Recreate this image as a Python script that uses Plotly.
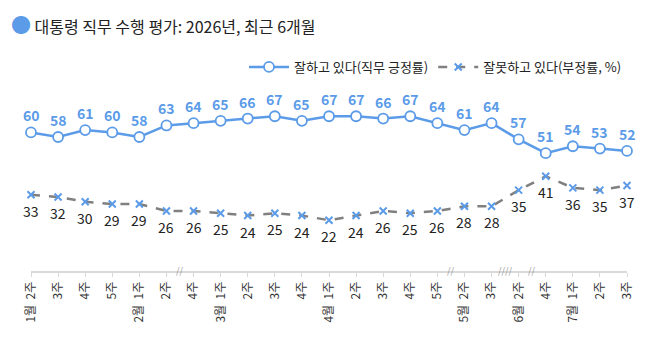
import plotly.graph_objects as go

weeks = ["1월  2주", "3주", "4주", "5주", "2월  1주", "2주", "4주",
         "3월  1주", "2주", "3주", "4주", "4월  1주", "2주", "3주", "4주", "5주",
         "5월  2주", "3주", "6월  2주", "4주", "7월  1주", "2주", "3주"]
positive = [60, 58, 61, 60, 58, 63, 64, 65, 66, 67, 65, 67, 67, 66, 67, 64, 61, 64, 57, 51, 54, 53, 52]
negative = [33, 32, 30, 29, 29, 26, 26, 25, 24, 25, 24, 22, 24, 26, 25, 26, 28, 28, 35, 41, 36, 35, 37]
breaks_after = {5: "//", 15: "//", 17: "////", 18: "//"}

BLUE = "#5B9BE8"
GRAY = "#808080"
FONT = "Noto Sans CJK KR"

x = list(range(len(weeks)))

fig = go.Figure()
fig.add_trace(go.Scatter(
    x=x, y=positive, mode="lines+markers", name="잘하고 있다(직무 긍정률)",
    line=dict(color=BLUE, width=2.5),
    marker=dict(symbol="circle", size=10, color="white", line=dict(color=BLUE, width=1.8)),
    cliponaxis=False,
))
fig.add_trace(go.Scatter(
    x=x, y=negative, mode="lines+markers", name="잘못하고 있다(부정률, %)",
    line=dict(color=GRAY, width=2.5, dash="dash"),
    marker=dict(symbol="x-thin-open", size=7, color=BLUE, line=dict(color=BLUE, width=2)),
    cliponaxis=False,
))

annotations = []
for i, v in enumerate(positive):
    annotations.append(dict(x=i, y=v, text=str(v), showarrow=False, yshift=17,
                            font=dict(family=FONT, size=14, color=BLUE, weight=600)))
for i, v in enumerate(negative):
    annotations.append(dict(x=i, y=v, text=str(v), showarrow=False, yshift=-16,
                            font=dict(family=FONT, size=14, color="#222222")))
for i, s in breaks_after.items():
    annotations.append(dict(x=i + 0.5, y=0, text=s, showarrow=False, yshift=1,
                            font=dict(family=FONT, size=9, color="#999999")))

fig.update_layout(
    width=658, height=357,
    margin=dict(l=31, r=31, t=40, b=86),
    paper_bgcolor="white", plot_bgcolor="white",
    font=dict(family=FONT, color="#222222"),
    title=dict(
        text=f'<span style="color:{BLUE};font-size:20px">●</span> 대통령 직무 수행 평가: 2026년, 최근 6개월',
        x=11 / 658, xanchor="left", xref="container",
        y=1 - 27 / 357, yanchor="middle", yref="container",
        font=dict(family=FONT, size=16, color="#222222"),
    ),
    showlegend=True,
    legend=dict(orientation="h", x=1.0, xanchor="right", y=(271 - 67) / 231, yanchor="middle",
                font=dict(family=FONT, size=13, color="#222222"), bgcolor="rgba(0,0,0,0)",
                itemwidth=40, tracegroupgap=0),
    xaxis=dict(range=[0, len(weeks) - 1], tickvals=x, ticktext=weeks, tickangle=-90,
               showgrid=False, zeroline=False, showline=True, linecolor="#d9d9d9", linewidth=2,
               ticks="outside", ticklen=4, tickcolor="#d9d9d9", tickwidth=1,
               tickfont=dict(family=FONT, size=12, color="#333333")),
    yaxis=dict(range=[0, 100], visible=False, showgrid=False, zeroline=False),
    annotations=annotations,
)

fig.write_html("out.html")
